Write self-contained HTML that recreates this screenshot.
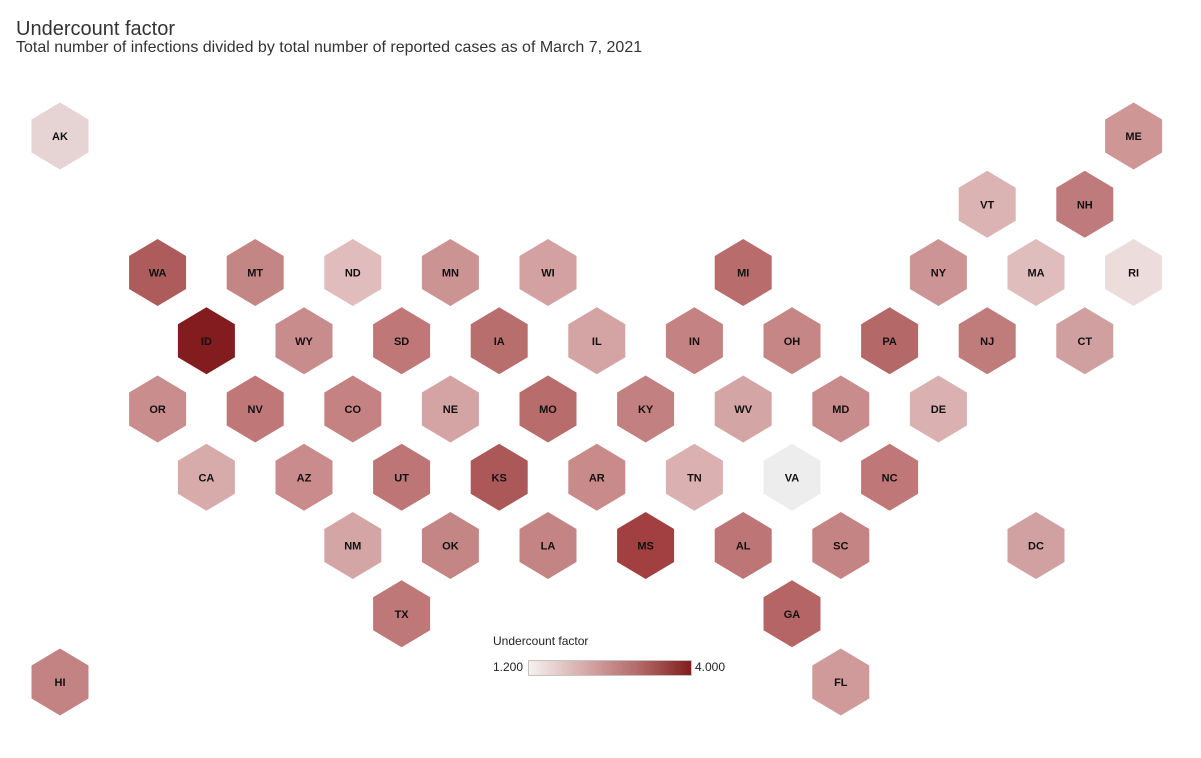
<!DOCTYPE html>
<html><head><meta charset="utf-8"><style>
body{margin:0;background:#fff;font-family:"Liberation Sans",Arial,sans-serif;}
.t{position:absolute;left:16px;top:18px;font-size:20px;color:#333;}
.s{position:absolute;left:16px;top:39px;font-size:16px;color:#333;}
</style></head><body>
<div style="position:relative;width:1201px;height:758px;overflow:hidden">
<div class="t">Undercount factor</div>
<div class="s">Total number of infections divided by total number of reported cases as of March 7, 2021</div>
<svg id="m" width="1201" height="758" style="position:absolute;left:0;top:0">
<defs><linearGradient id="g" x1="0" x2="1"><stop offset="0" stop-color="#f4f2f1"/><stop offset="0.35" stop-color="#d6a9a9"/><stop offset="0.7" stop-color="#b06464"/><stop offset="1" stop-color="#821c1e"/></linearGradient></defs>
<text x="493" y="645" font-size="12" fill="#222" font-family="Liberation Sans">Undercount factor</text>
<text x="493" y="671" font-size="12" fill="#222" font-family="Liberation Sans">1.200</text>
<rect x="528.5" y="660.5" width="163" height="15" fill="url(#g)" stroke="#c8c2bc"/>
<text x="695" y="671" font-size="12" fill="#222" font-family="Liberation Sans">4.000</text>
</svg>
</div>
<script>
var d=[["AK",0,0,"#e6d3d4"],["ME",22,0,"#cf9696"],["VT",19,1,"#dcb3b3"],["NH",21,1,"#bf7b7b"],
["WA",2,2,"#ad5b5b"],["MT",4,2,"#c48585"],["ND",6,2,"#e0bcbc"],["MN",8,2,"#cc9393"],["WI",10,2,"#d3a1a1"],["MI",14,2,"#b86c6c"],["NY",18,2,"#cc9494"],["MA",20,2,"#e0bdbd"],["RI",22,2,"#ecdcdc"],
["ID",3,3,"#821c1e"],["WY",5,3,"#c98c8c"],["SD",7,3,"#bf7777"],["IA",9,3,"#b96e6e"],["IL",11,3,"#d4a3a3"],["IN",13,3,"#c48282"],["OH",15,3,"#c68686"],["PA",17,3,"#b56868"],["NJ",19,3,"#c07b7b"],["CT",21,3,"#d0a0a0"],
["OR",2,4,"#c98d8d"],["NV",4,4,"#bf7777"],["CO",6,4,"#c48282"],["NE",8,4,"#d4a3a3"],["MO",10,4,"#b86c6c"],["KY",12,4,"#c38080"],["WV",14,4,"#d3a5a5"],["MD",16,4,"#c98c8c"],["DE",18,4,"#dab0b0"],
["CA",3,5,"#d8abab"],["AZ",5,5,"#c98b8b"],["UT",7,5,"#bd7575"],["KS",9,5,"#ad5858"],["AR",11,5,"#c98a8a"],["TN",13,5,"#dbb0b0"],["VA",15,5,"#eeeded"],["NC",17,5,"#bf7777"],
["NM",6,6,"#d4a5a5"],["OK",8,6,"#c48585"],["LA",10,6,"#c48484"],["MS",12,6,"#a13f41"],["AL",14,6,"#bd7575"],["SC",16,6,"#c48484"],["DC",20,6,"#d1a0a0"],
["TX",7,7,"#bf7878"],["GA",15,7,"#b56565"],["HI",0,8,"#c48383"],["FL",16,8,"#d09a9a"]];
var s="",svg=document.getElementById("m");
d.forEach(function(e){var x=60+48.8*e[1],y=136+68.25*e[2],w=28.5,h=33.5,q=16.5;
s+='<polygon points="'+x+','+(y-h)+' '+(x+w)+','+(y-q)+' '+(x+w)+','+(y+q)+' '+x+','+(y+h)+' '+(x-w)+','+(y+q)+' '+(x-w)+','+(y-q)+'" fill="'+e[3]+'"/>';
s+='<text x="'+x+'" y="'+(y+4)+'" text-anchor="middle" font-size="11" font-weight="bold" fill="#111" font-family="Liberation Sans">'+e[0]+'</text>';});
svg.insertAdjacentHTML("afterbegin",s);
</script>
</body></html>
